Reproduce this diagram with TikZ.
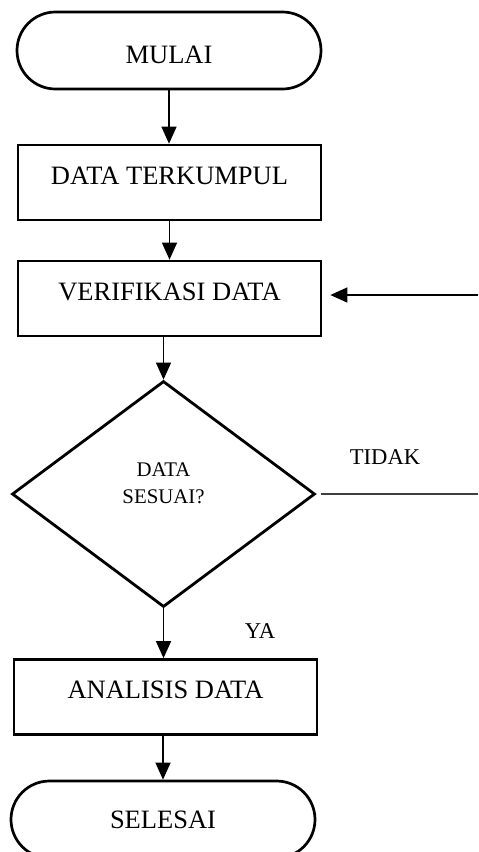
\documentclass[tikz,border=0pt]{standalone}
\usepackage{fontspec}
\setmainfont{Liberation Serif}
\usetikzlibrary{arrows.meta,shapes.geometric,shapes.misc}

\begin{document}
\begin{tikzpicture}[x=0.5pt,y=-0.5pt,>={Triangle[width=7.5pt,length=8.5pt]},
  terminal/.style={rounded rectangle,draw,line width=1.35pt,minimum width=152pt,
    minimum height=38.5pt,inner sep=0pt,font=\fontsize{13.25}{16}\selectfont},
  prosesbox/.style={rectangle,draw,line width=1.35pt,minimum width=151.5pt,inner sep=0pt,
    text height=19.5pt,text depth=18pt,font=\fontsize{13.25}{16}\selectfont},
  keputusan/.style={diamond,draw,line width=1.4pt,minimum width=151.5pt,minimum height=113pt,
    inner sep=0pt,align=center,text depth=10.5pt,font=\fontsize{10.4}{13.5}\selectfont},
  alur/.style={->,line width=0.65pt},
  ket/.style={font=\fontsize{11.3}{14}\selectfont}]
  \useasboundingbox (0,0) rectangle (478,852);

  \node[terminal,text height=13.3pt,text depth=0pt] (mulai) at (169,50.5) {MULAI};
  \node[prosesbox] (kumpul) at (169.5,182.5) {DATA TERKUMPUL};
  \node[prosesbox] (verif) at (169.5,298.5) {VERIFIKASI DATA};
  \node[keputusan] (cek) at (163.5,494) {DATA\\SESUAI?};
  \node[prosesbox] (analisis) at (165.5,697) {ANALISIS DATA};
  \node[terminal] (selesai) at (163,819.5) {SELESAI};

  % ujung garis balik di tepi kanan
  \coordinate (balik1) at (478,295);
  \coordinate (balik2) at (478,494);

  \draw[alur] (mulai.south) -- (mulai.south |- kumpul.north);
  \draw[alur] (kumpul.south) -- (kumpul.south |- verif.north);
  \draw[alur] (cek.north |- verif.south) -- (cek.north);
  \draw[alur] (cek.south) -- (cek.south |- analisis.north);
  \draw[alur] (selesai.north |- analisis.south) -- (selesai.north);
  \draw[alur,shorten >=4pt] (balik1) -- (balik1 -| verif.east);
  \draw[line width=0.65pt,black!75,shorten <=2.5pt] (cek.east) -- (balik2);

  \node[ket] (tidak) at (385,457) {TIDAK};
  \node[ket] (ya) at (260,631) {YA};
\end{tikzpicture}
\end{document}
